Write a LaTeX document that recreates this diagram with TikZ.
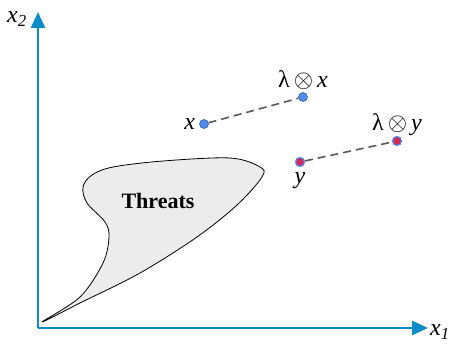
\documentclass[tikz,border=0pt]{standalone}
\usepackage{fontspec}
\setmainfont{Liberation Serif}
\usetikzlibrary{arrows.meta}
\definecolor{axisblue}{RGB}{10,140,200}
\definecolor{ptblue}{RGB}{80,140,235}
\definecolor{ptred}{RGB}{210,40,90}
\newcommand{\bigot}{{\fontsize{30}{30}\selectfont$\otimes$}}
\tikzset{
  axis/.style={axisblue, line width=2.8pt, -{Triangle[width=14pt,length=16pt]}},
  bluept/.style={circle, fill=ptblue, draw=ptblue!70!black, line width=0.6pt, inner sep=0pt, minimum size=9pt},
  redpt/.style={circle, fill=ptred, draw=ptblue, line width=1.2pt, inner sep=0pt, minimum size=9pt},
  scaling/.style={gray!70!black, line width=1.6pt, dash pattern=on 8pt off 5pt},
  lbl/.style={font=\fontsize{24}{26}\selectfont, inner sep=1pt}
}
\begin{document}
\begin{tikzpicture}[x=1pt, y=1pt, line join=round]
  \useasboundingbox (-38,-15) rectangle (416,328);
  % axes
  \coordinate (O) at (0,0);
  \coordinate (xend) at (390,0);
  \coordinate (yend) at (0,316);
  \draw[axis] (O) -- (xend);
  \draw[axis] (O) -- (yend);
  \node[lbl, inner sep=0pt] (xone) at (402,-4) {\textit{x\textsubscript{1}}};
  \node[lbl] (xtwo) at (-21,309) {\textit{x\textsubscript{2}}};
  % threat region
  \draw[black, line width=0.8pt, fill=gray!15] plot[smooth cycle, tension=0.55] coordinates {
    (4,6) (42,31) (65,65) (71,91) (67,106) (49,125) (45,141) (54,153) (75,161)
    (125,167) (192,170) (222,161) (224,151) (199,123) (159,91) (102,55) (42,25)};
  \node[font=\fontsize{22}{24}\selectfont\bfseries] (threats) at (120,127) {Threats};
  % points and their scaled images
  \node[bluept] (px) at (166,204) {};
  \node[bluept] (plx) at (265,231) {};
  \node[redpt] (py) at (262,166) {};
  \node[redpt] (ply) at (359,187) {};
  \draw[scaling] (px) -- (plx);
  \draw[scaling] (py) -- (ply);
  \node[lbl, left=3pt] at (px.west) {\textit{x}};
  \node[lbl, above=1pt] at (plx.north) {λ\,\bigot\,\textit{x}};
  \node[lbl, below=4pt] at (py.south) {\textit{y}};
  \node[lbl, above=-1pt] at (ply.north) {λ\,\bigot\,\textit{y}};
\end{tikzpicture}
\end{document}
